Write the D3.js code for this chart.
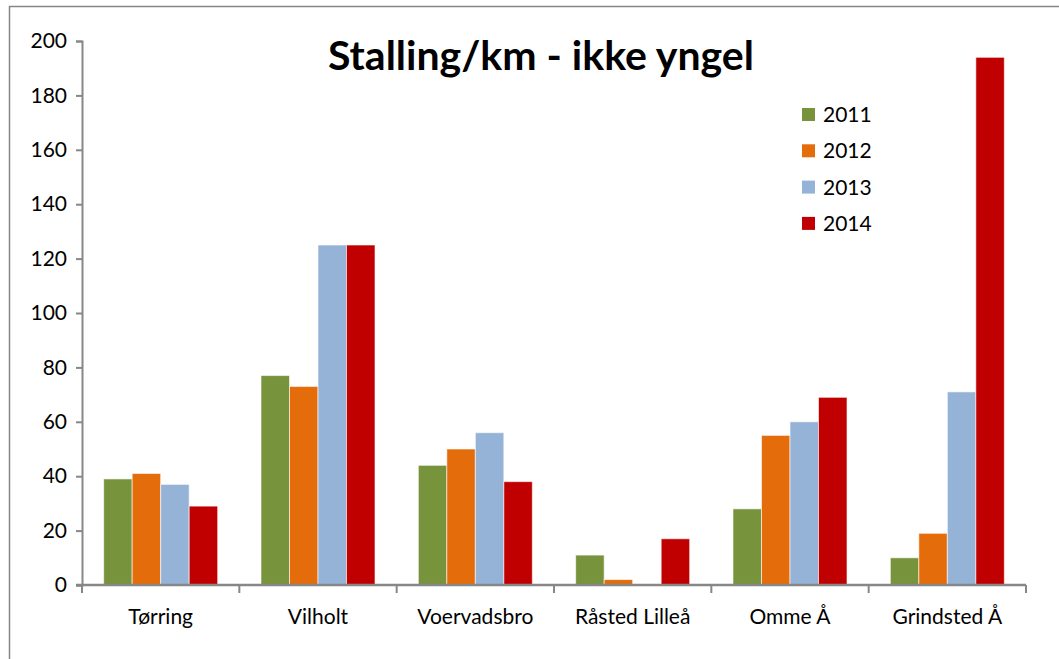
<!DOCTYPE html>
<html>
<head>
<meta charset="utf-8">
<script src="https://cdn.jsdelivr.net/npm/d3@7"></script>
<style>
  body { margin: 0; background: #fff; }
  svg { display: block; font-family: Lato, "Open Sans", sans-serif; }
</style>
</head>
<body>
<svg id="chart" width="1059" height="659"></svg>
<script>
// data
const categories = ["Tørring", "Vilholt", "Voervadsbro", "Råsted Lilleå", "Omme Å", "Grindsted Å"];
const years = ["2011", "2012", "2013", "2014"];
const v2011 = [39, 77, 44, 11, 28, 10];
const v2012 = [41, 73, 50, 2, 55, 19];
const v2013 = [37, 125, 56, 0, 60, 71];
const v2014 = [29, 125, 38, 17, 69, 194];
const yTicks = [0, 20, 40, 60, 80, 100, 120, 140, 160, 180, 200];
const colors = ["#77933C", "#E46C0A", "#95B3D7", "#C00000"];

const series = [v2011, v2012, v2013, v2014];

const svg = d3.select("#chart");

// outer frame
svg.append("rect")
  .attr("x", 9.5).attr("y", 6.5)
  .attr("width", 1070).attr("height", 680)
  .attr("fill", "none").attr("stroke", "#878787").attr("stroke-width", 1.5);

const plotL = 82, plotR = 1026, plotT = 41, plotB = 585;

const x = d3.scaleBand().domain(categories).range([plotL, plotR]).paddingInner(0).paddingOuter(0);
const x1 = d3.scaleBand().domain(years).range([0, x.bandwidth()]).paddingInner(0).paddingOuter(0.76);
const y = d3.scaleLinear().domain([0, 200]).range([plotB, plotT]);

// bars
const groups = svg.append("g").selectAll("g")
  .data(categories)
  .join("g")
  .attr("transform", d => `translate(${x(d)},0)`);

groups.selectAll("rect")
  .data((c, i) => years.map((yr, k) => ({ yr, k, v: series[k][i] })).filter(d => d.v > 0))
  .join("rect")
  .attr("x", d => x1(d.yr))
  .attr("width", x1.bandwidth())
  .attr("y", d => y(d.v))
  .attr("height", d => y(0) - y(d.v))
  .attr("fill", d => colors[d.k])
  .attr("stroke", "rgba(255,255,255,0.6)")
  .attr("stroke-width", 1);

// y axis
const yAxis = d3.axisLeft(y).tickValues(yTicks).tickSize(6).tickPadding(9);
const gy = svg.append("g").attr("transform", `translate(${plotL},0)`).call(yAxis);
gy.select(".domain").attr("stroke", "#878787").attr("stroke-width", 2);
gy.selectAll(".tick line").attr("stroke", "#878787").attr("stroke-width", 2);
gy.selectAll(".tick text").attr("font-size", 21).attr("fill", "#000").attr("font-family", "Lato, sans-serif");

// x axis
const gx = svg.append("g").attr("transform", `translate(0,${plotB})`);
gx.append("line")
  .attr("x1", plotL - 6).attr("x2", plotR)
  .attr("stroke", "#878787").attr("stroke-width", 2.5);
const boundaries = categories.map(c => x(c)).concat([plotR]);
gx.selectAll(".xt")
  .data(boundaries)
  .join("line")
  .attr("x1", d => d).attr("x2", d => d)
  .attr("y1", 0).attr("y2", 8)
  .attr("stroke", "#878787").attr("stroke-width", 2);
gx.selectAll(".xl")
  .data(categories)
  .join("text")
  .attr("x", d => x(d) + x.bandwidth() / 2)
  .attr("y", 39)
  .attr("text-anchor", "middle")
  .attr("font-size", 21)
  .attr("fill", "#000")
  .text(d => d);

// title
svg.append("text")
  .attr("x", 541).attr("y", 70)
  .attr("text-anchor", "middle")
  .attr("font-size", 41)
  .attr("font-weight", "bold")
  .attr("fill", "#000")
  .text("Stalling/km - ikke yngel");

// legend
const legend = svg.append("g").attr("transform", "translate(802,108)");
const li = legend.selectAll("g").data(years).join("g")
  .attr("transform", (d, i) => `translate(0,${i * 36.3})`);
li.append("rect").attr("width", 13).attr("height", 13).attr("fill", (d, i) => colors[i]);
li.append("text").attr("x", 21).attr("y", 14).attr("font-size", 21).attr("fill", "#000").text(d => d);
</script>
</body>
</html>
